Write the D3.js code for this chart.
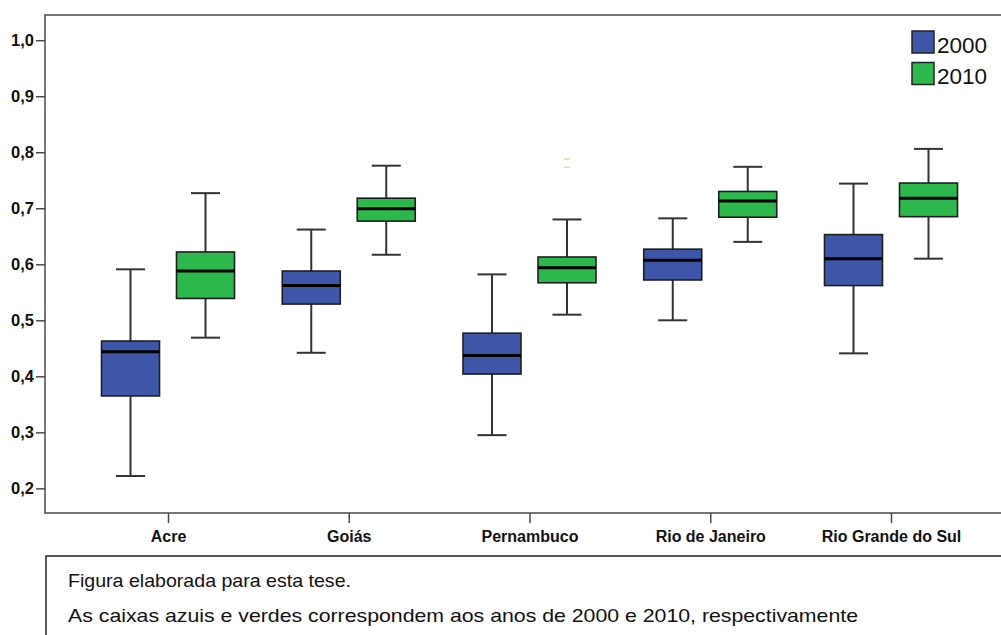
<!DOCTYPE html>
<html>
<head>
<meta charset="utf-8">
<script src="https://cdn.jsdelivr.net/npm/d3@7"></script>
<style>
  html, body { margin: 0; padding: 0; background: #fff; }
  svg { display: block; }
</style>
</head>
<body>
<svg id="chart" width="1001" height="635"></svg>
<script>
// Categories and years
const states = ["Acre", "Goiás", "Pernambuco", "Rio de Janeiro", "Rio Grande do Sul"];
const years = ["2000", "2010"];

// Five-number summaries per state: [lower whisker, Q1, median, Q3, upper whisker]
const box2000 = [
  [0.222, 0.365, 0.444, 0.463, 0.591],
  [0.442, 0.529, 0.562, 0.588, 0.662],
  [0.295, 0.404, 0.437, 0.477, 0.582],
  [0.500, 0.572, 0.607, 0.627, 0.682],
  [0.441, 0.562, 0.610, 0.653, 0.744]
];
const box2010 = [
  [0.469, 0.539, 0.588, 0.622, 0.727],
  [0.617, 0.677, 0.699, 0.718, 0.776],
  [0.510, 0.567, 0.594, 0.613, 0.680],
  [0.640, 0.684, 0.713, 0.730, 0.774],
  [0.610, 0.685, 0.718, 0.745, 0.806]
];
// Faint extreme markers (state index, year, value)
const faintMarks = [
  [2, "2010", 0.788],
  [2, "2010", 0.773]
];

const yTicks = [0.2, 0.3, 0.4, 0.5, 0.6, 0.7, 0.8, 0.9, 1.0];
const yTickLabels = ["0,2", "0,3", "0,4", "0,5", "0,6", "0,7", "0,8", "0,9", "1,0"];

const captionLines = [
  "Figura elaborada para esta tese.",
  "As caixas azuis e verdes correspondem aos anos de 2000 e 2010, respectivamente"
];

const colors = { "2000": "#3d56a7", "2010": "#2db84b" };
const font = "'Liberation Sans', Arial, sans-serif";

const svg = d3.select("#chart");
const frame = { left: 45, top: 15, right: 1003, bottom: 513 };

const y = d3.scaleLinear().domain([0.156, 1.045]).range([frame.bottom, frame.top]);
const x = d3.scalePoint().domain(states).range([168, 891]);
const xOff = d3.scalePoint().domain(years).range([-37.5, 37.5]);
const boxW = 58, capW = 29;

// Plot frame
svg.append("rect")
  .attr("x", frame.left).attr("y", frame.top)
  .attr("width", frame.right - frame.left).attr("height", frame.bottom - frame.top)
  .attr("fill", "none").attr("stroke", "#4a4a4a").attr("stroke-width", 1.5);

// Y axis
const yAxis = d3.axisLeft(y)
  .tickValues(yTicks)
  .tickFormat((d, i) => yTickLabels[i])
  .tickSize(9).tickPadding(2);
const gy = svg.append("g").attr("transform", `translate(${frame.left},0)`).call(yAxis)
  .attr("font-family", font).attr("font-size", 16.5);
gy.select(".domain").remove();
gy.selectAll("line").attr("stroke", "#4a4a4a").attr("stroke-width", 1.5);
gy.selectAll("text").attr("font-weight", "bold").attr("fill", "#111");

// X axis
const xAxis = d3.axisBottom(x).tickSize(10).tickPadding(8);
const gx = svg.append("g").attr("transform", `translate(0,${frame.bottom})`).call(xAxis)
  .attr("font-family", font).attr("font-size", 16);
gx.select(".domain").remove();
gx.selectAll("line").attr("stroke", "#4a4a4a").attr("stroke-width", 1.5);
gx.selectAll("text").attr("font-weight", "bold").attr("fill", "#111");

// Boxes
const series = [
  { year: "2000", data: box2000 },
  { year: "2010", data: box2010 }
];

series.forEach(s => {
  const g = svg.append("g").attr("class", "series-" + s.year);
  const items = s.data.map((v, i) => ({ state: states[i], v }));
  const cx = d => x(d.state) + xOff(s.year);

  // whisker stems
  g.selectAll(".stem-hi").data(items).join("line")
    .attr("x1", cx).attr("x2", cx)
    .attr("y1", d => y(d.v[3])).attr("y2", d => y(d.v[4]))
    .attr("stroke", "#333").attr("stroke-width", 2);
  g.selectAll(".stem-lo").data(items).join("line")
    .attr("x1", cx).attr("x2", cx)
    .attr("y1", d => y(d.v[1])).attr("y2", d => y(d.v[0]))
    .attr("stroke", "#333").attr("stroke-width", 2);
  // whisker caps
  [0, 4].forEach(k => {
    g.selectAll(".cap" + k).data(items).join("line")
      .attr("x1", d => cx(d) - capW / 2).attr("x2", d => cx(d) + capW / 2)
      .attr("y1", d => y(d.v[k])).attr("y2", d => y(d.v[k]))
      .attr("stroke", "#333").attr("stroke-width", 2);
  });
  // boxes
  g.selectAll(".box").data(items).join("rect")
    .attr("x", d => cx(d) - boxW / 2)
    .attr("y", d => y(d.v[3]))
    .attr("width", boxW)
    .attr("height", d => y(d.v[1]) - y(d.v[3]))
    .attr("fill", colors[s.year])
    .attr("stroke", "#1e1e1e").attr("stroke-width", 1.6);
  // medians
  g.selectAll(".median").data(items).join("line")
    .attr("x1", d => cx(d) - boxW / 2).attr("x2", d => cx(d) + boxW / 2)
    .attr("y1", d => y(d.v[2])).attr("y2", d => y(d.v[2]))
    .attr("stroke", "#000").attr("stroke-width", 3);
});

// Faint extreme markers
svg.append("g").selectAll("line").data(faintMarks).join("line")
  .attr("x1", d => x(states[d[0]]) + xOff(d[1]) - 3)
  .attr("x2", d => x(states[d[0]]) + xOff(d[1]) + 3)
  .attr("y1", d => y(d[2])).attr("y2", d => y(d[2]))
  .attr("stroke", "#e3dcb5").attr("stroke-width", 1.5);

// Legend
const legend = svg.append("g").attr("transform", "translate(912,31)");
years.forEach((yr, i) => {
  const row = legend.append("g").attr("transform", `translate(0,${i * 31.5})`);
  row.append("rect").attr("width", 22).attr("height", 22)
    .attr("fill", colors[yr]).attr("stroke", "#222").attr("stroke-width", 1.5);
  row.append("text").attr("x", 25).attr("y", 21.5)
    .attr("font-family", font)
    .attr("font-size", 22.5).attr("fill", "#111").text(yr);
});

// Caption box
svg.append("rect")
  .attr("x", 46).attr("y", 556).attr("width", 1000).attr("height", 120)
  .attr("fill", "none").attr("stroke", "#222").attr("stroke-width", 1.5);
const captionWidths = [283, 790];
captionLines.forEach((t, i) => {
  svg.append("text")
    .attr("x", 68).attr("y", 587 + i * 35)
    .attr("font-family", font)
    .attr("font-size", 18.5).attr("fill", "#111")
    .attr("textLength", captionWidths[i]).attr("lengthAdjust", "spacingAndGlyphs")
    .text(t);
});
</script>
</body>
</html>
